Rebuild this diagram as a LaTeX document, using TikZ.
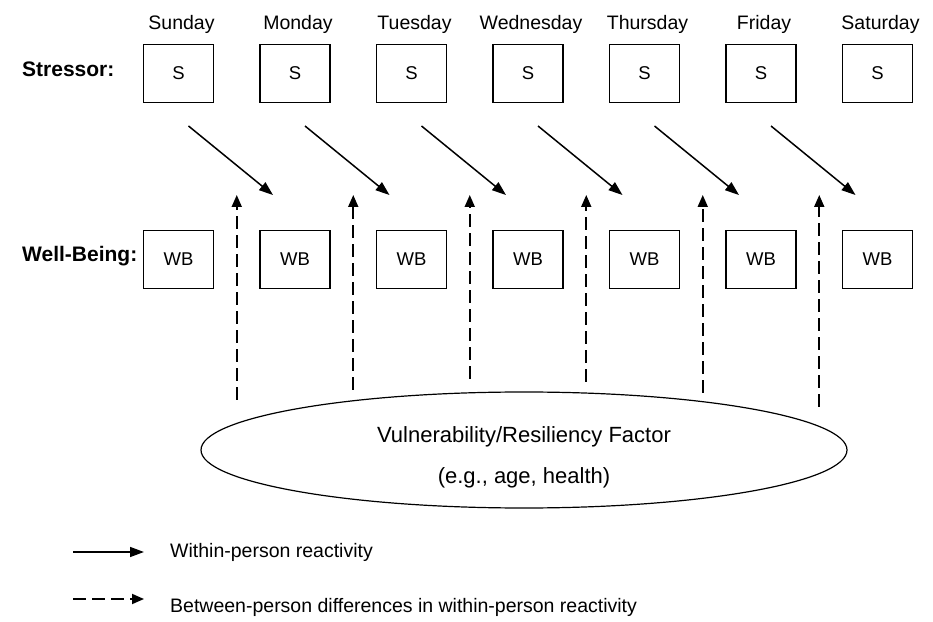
\documentclass[tikz,border=0pt]{standalone}
\usepackage{fontspec}
\setmainfont{Liberation Sans}
\usetikzlibrary{matrix,positioning,shapes.geometric,arrows.meta,calc}

\begin{document}
\begin{tikzpicture}[%
    x=1pt, y=1pt,
    dayname/.style={
        font=\fontsize{19.5}{23}\selectfont,
        inner sep=0pt,
        anchor=base
        },
    rowname/.style={
        font=\fontsize{21}{24}\selectfont\bfseries,
        inner sep=0pt,
        anchor=base west
        },
    weekgrid/.style={%
        matrix of nodes,
        nodes={draw, line width=1.2pt, minimum width=70pt, minimum height=58pt,
            inner sep=0pt, font=\fontsize{18.5}{22}\selectfont},
        column sep=45.3pt,
        row sep=127pt},
    factor/.style={
        ellipse, draw, line width=1.2pt,
        minimum width=646pt, minimum height=116pt,
        inner sep=0pt,
        align=center,
        font=\fontsize{22}{41}\selectfont
        },
    reacts/.style={line width=1.5pt, -{Triangle[length=14pt,width=10pt]}},
    moderates/.style={line width=1.8pt, dash pattern=on 13pt off 6pt,
        -{Triangle[length=12pt,width=10pt]}},
    keytext/.style={font=\fontsize{19.5}{23}\selectfont, inner sep=0pt, anchor=base west}
]

\useasboundingbox (0,0) rectangle (933,621);

\matrix[weekgrid] (week) at (528,454.5) {
S & S & S & S & S & S & S \\
WB & WB & WB & WB & WB & WB & WB \\};

% day names over the stressor boxes
\foreach \day [count=\i] in {Sunday,Monday,Tuesday,Wednesday,Thursday,Friday,Saturday}
    \node[dayname, xshift=3pt] (day\i) at (week-1-\i.north |- 0,591) {\day};

\node[rowname] (stressor) at (22,544) {Stressor:};
\node[rowname] (wellbeing) at (22,359) {Well-Being:};

\node[factor] (factor) at (524,171)
    {\rule{0pt}{31pt}Vulnerability/Resiliency Factor\\(e.g., age, health)};

% within-person reactivity
\foreach \i/\j in {1/2,2/3,3/4,4/5,5/6,6/7}
    \draw[reacts] ($(week-1-\i.south)+(10,-23)$) -- ($(week-2-\j.north)+(-22,35)$);

% between-person differences
\foreach \i/\j/\b in {1/2/221,2/3/231,3/4/242,4/5/239,5/6/228,6/7/214} {
    \path (week-2-\i.east) -- (week-2-\j.west) coordinate[pos=0.5] (gap\i);
    \draw[moderates] (gap\i |- 0,\b) -- (gap\i |- 0,426);
}

% legend
\coordinate (solidkey) at (73,69);
\coordinate (dashkey) at (73,22);
\node[keytext] (within) at (170,64) {Within-person reactivity};
\node[keytext] (betweenkey) at (170,9) {Between-person differences in within-person reactivity};
\draw[reacts] (solidkey) -- ([xshift=-26pt]solidkey -| within.west);
\draw[moderates] (dashkey) -- ([xshift=-26pt]dashkey -| betweenkey.west);

\end{tikzpicture}
\end{document}
